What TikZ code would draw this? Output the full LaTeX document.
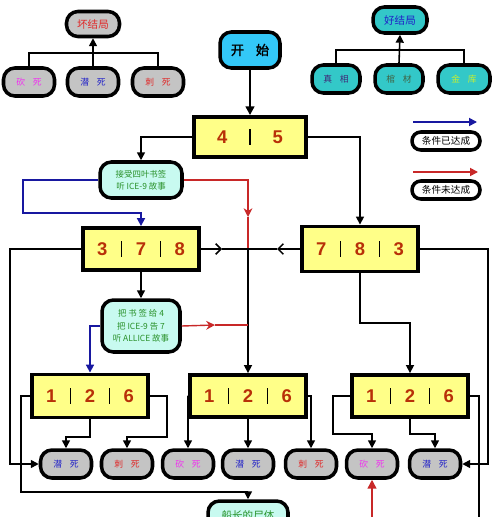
\documentclass[tikz,border=0pt]{standalone}
\usepackage{fontspec}
\setmainfont{Liberation Sans}
\newfontfamily\cjk{Noto Sans CJK SC}
\newfontfamily\cjkb[FakeBold=2]{Noto Sans CJK SC}
\usetikzlibrary{arrows.meta}
\definecolor{greyfill}{HTML}{C4C4C4}
\definecolor{tealfill}{HTML}{33C8C8}
\definecolor{yellowfill}{HTML}{FFFF88}
\definecolor{startblue}{HTML}{33C8F8}
\definecolor{cyanfill}{HTML}{C8FAF0}
\definecolor{numred}{HTML}{B83008}
\definecolor{tred}{HTML}{E02828}
\definecolor{tmag}{HTML}{F030F0}
\definecolor{tblue}{HTML}{2020C8}
\definecolor{tpurple}{HTML}{402878}
\definecolor{tdkgreen}{HTML}{406040}
\definecolor{tyel}{HTML}{C8F030}
\definecolor{infogreen}{HTML}{289028}
\definecolor{bline}{HTML}{1818A0}
\definecolor{rline}{HTML}{C82828}
\newcommand\two[2]{#1\hspace{0.9em}#2}
\newcommand\vbar{\makebox[0pt]{\color{black}\rule[-0.6pt]{0.9pt}{9pt}}}
\newcommand\dg[1]{\makebox[22.1pt]{#1}}
\begin{document}
\begin{tikzpicture}[x=0.02cm,y=-0.02cm,
  conn/.style={line width=0.9pt, draw=black},
  arr/.style={conn,-{Triangle[length=4.5pt,width=4.5pt]}},
  barb/.style={conn,-{Straight Barb[length=3pt,width=6pt]}},
  bluearr/.style={line width=1pt, draw=bline,-{Triangle[length=4.5pt,width=4.5pt]}},
  redln/.style={line width=0.8pt, draw=rline},
  redarr/.style={redln,-{Stealth[length=5pt,width=5pt]}},
  rbox/.style={draw=black, line width=2pt, rounded corners=6.5pt, inner sep=0pt, font=\cjk\fontsize{5}{6}\selectfont},
  bad/.style={rbox, fill=greyfill, minimum width=1.02cm, minimum height=0.56cm},
  good/.style={rbox, fill=tealfill, minimum width=0.96cm, minimum height=0.56cm},
  title/.style={font=\cjk\fontsize{6}{6}\selectfont},
  numbox/.style={draw=black, line width=2.2pt, fill=yellowfill, inner sep=0pt, text=numred, font=\bfseries\fontsize{10.5}{11}\selectfont, minimum width=2.12cm, minimum height=0.84cm},
  infobox/.style={rbox, fill=cyanfill, text=infogreen, align=center, font=\cjk\fontsize{4.8}{7}\selectfont},
  legbox/.style={rbox, rounded corners=5pt, fill=white, minimum width=1.36cm, minimum height=0.36cm, font=\cjk\fontsize{5.5}{6}\selectfont},
]
\useasboundingbox (0,0) rectangle (500,517);
\fill[white] (0,0) rectangle (500,517);
\clip (0,0) rectangle (500,517);

% bad ending group
\node[bad, title, minimum width=1.06cm, minimum height=0.5cm, text=tred] (bad) at (93,24) {坏结局};
\node[bad, text=tmag] (bk1) at (29,82) {\two{砍}{死}};
\node[bad, text=tblue] (bk2) at (93,82) {\two{潜}{死}};
\node[bad, text=tred] (bk3) at (158,82) {\two{刺}{死}};
\coordinate (badj) at (93,53);
\draw[conn] (bk1.north) |- (badj) -| (bk3.north);
\draw[arr] (bk2.north) -- (bad.south);

% good ending group
\node[good, title, minimum width=1.08cm, minimum height=0.52cm, text=tblue] (good) at (400,20) {好结局};
\node[good, text=tpurple] (gd1) at (336,79) {\two{真}{相}};
\node[good, text=tdkgreen] (gd2) at (399,79) {\two{棺}{材}};
\node[good, minimum width=1.04cm, text=tyel] (gd3) at (464,79) {\two{金}{库}};
\coordinate (goodj) at (399,50);
\draw[conn] (gd1.north) |- (goodj) -| (gd3.north);
\draw[arr] (gd2.north) -- (good.south);

% legend
\coordinate (lb1) at (413,122); \coordinate (lb2) at (477,122);
\coordinate (lr1) at (413,172); \coordinate (lr2) at (478,172);
\draw[bluearr] (lb1) -- (lb2);
\draw[line width=1pt, draw=rline, -{Triangle[length=4.5pt,width=4.5pt]}] (lr1) -- (lr2);
\node[legbox] (leg1) at (446,141) {条件已达成};
\node[legbox] (leg2) at (446,190) {条件未达成};

% main flow
\node[rbox, fill=startblue, minimum width=1.2cm, minimum height=0.72cm, font=\cjkb\fontsize{7.5}{8}\selectfont] (start) at (250,50) {\two{开}{始}};
\node[numbox, minimum width=1.72cm, minimum height=0.8cm] (n45) at (250,137) {\makebox[31.7pt]{4}\vbar\makebox[31.7pt]{5}};
\node[infobox, minimum width=1.64cm, minimum height=0.72cm] (accept) at (141,180) {接受四叶书签\\听 ICE-9 故事};
\node[numbox, minimum width=2.24cm] (n378) at (141,249) {\dg{3}\vbar\dg{7}\vbar\dg{8}};
\node[numbox, minimum height=0.9cm] (n783) at (360,249) {\dg{7}\vbar\dg{8}\vbar\dg{3}};
\node[infobox, minimum width=1.56cm, minimum height=1.04cm] (give) at (141,326) {把 书 签 给 4\\把 ICE-9 告 7\\听 ALLICE 故事};
\node[numbox, minimum height=0.86cm] (L126) at (90,396) {\dg{1}\vbar\dg{2}\vbar\dg{6}};
\node[numbox, minimum width=2.14cm] (M126) at (248,396) {\dg{1}\vbar\dg{2}\vbar\dg{6}};
\node[numbox] (R126) at (410,396) {\dg{1}\vbar\dg{2}\vbar\dg{6}};

% bottom endings
\node[bad, text=tblue] (b1) at (66,464) {\two{潜}{死}};
\node[bad, text=tred] (b2) at (127,464) {\two{刺}{死}};
\node[bad, text=tmag] (b3) at (188,464) {\two{砍}{死}};
\node[bad, text=tblue] (b4) at (248,464) {\two{潜}{死}};
\node[bad, text=tred] (b5) at (311,464) {\two{刺}{死}};
\node[bad, text=tmag] (b6) at (372,464) {\two{砍}{死}};
\node[bad, text=tblue] (b7) at (435,464) {\two{潜}{死}};
\node[infobox, minimum width=1.6cm, minimum height=0.56cm, font=\cjk\fontsize{6}{7}\selectfont] (corpse) at (248,515) {船长的尸体};

% connectors
\coordinate (cross) at (248,249);
\coordinate (redmid) at (248,217);
\coordinate (redmid2) at (215,325);
\coordinate (redjoin) at (248,325);
\coordinate (m1) at (222,249);
\coordinate (m2) at (277,249);
\coordinate (bj1) at (23,213);
\coordinate (lft) at (10,464);
\coordinate (rgt) at (488,464);
\coordinate (turn783) at (360,323);
\coordinate (lc) at (21,492);
\coordinate (lb) at (90,437);
\coordinate (lr) at (167,437);
\coordinate (rl) at (333,434);
\coordinate (rb) at (410,434);
\coordinate (rout) at (479,530);
\coordinate (rin) at (372,530);

\draw[line width=1.2pt, -{Triangle[length=5pt,width=5pt]}] (start.south) -- (n45.north);
\draw[arr] (n45.west) -| (accept.north);
\draw[arr] (n45.east) -| (n783.north);
\draw[bluearr] (accept.west) -| (bj1) -| (n378.north);
\draw[redarr] (accept.east) -| (redmid);
\draw[redln] (redmid) -- (cross);
\draw[barb] (n378.east) -- (m1);
\draw[conn] (m1) -- (cross);
\draw[barb] (n783.west) -- (m2);
\draw[conn] (m2) -- (cross);
\draw[arr] (cross) -- (M126.north);
\draw[arr] (n378.south) -- (give.north);
\draw[redarr] (give.east) -- (redmid2);
\draw[redln] (redmid2) -- (redjoin);
\draw[bluearr] (give.west) -| (L126.north);
\draw[arr] (n378.west) -| (lft) -- (b1.west);
\draw[arr] (n783.east) -| (rgt) -- (b7.east);
\draw[arr] (n783.south) -- (turn783) -| (R126.north);
\draw[arr] (L126.west) -| (lc) -| (corpse.north);
\draw[arr] (L126.south) -- (lb) -| (b1.north);
\draw[arr] (L126.east) -| (lr) -| (b2.north);
\draw[arr] (M126.west) -| (b3.north);
\draw[arr] (M126.south) -- (b4.north);
\draw[arr] (M126.east) -| (b5.north);
\draw[arr] (R126.west) -| (rl) -| (b6.north);
\draw[arr] (R126.south) -- (rb) -| (b7.north);
\draw[conn] (R126.east) -| (rout);
\draw[line width=0.8pt, draw=rline, -{Triangle[length=5pt,width=5pt]}] (rin) -- (b6.south);
\end{tikzpicture}
\end{document}
